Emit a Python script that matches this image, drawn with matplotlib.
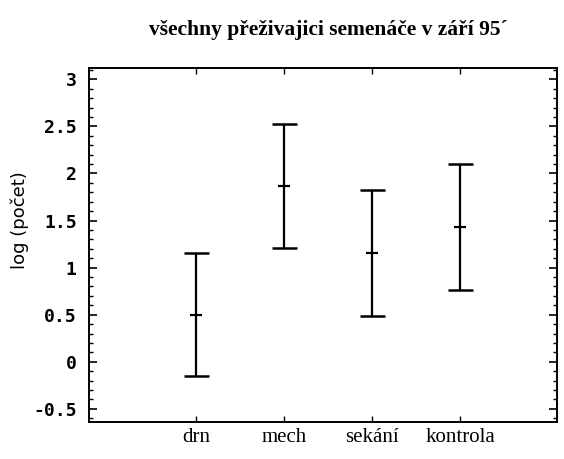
import matplotlib
matplotlib.use("Agg")
import matplotlib.pyplot as plt
from matplotlib.ticker import MultipleLocator, FixedLocator

# treatment groups and log(count) summary
groups = ["drn", "mech", "sekání", "kontrola"]
means = [0.50, 1.87, 1.16, 1.43]
upper = [1.16, 2.53, 1.82, 2.10]
lower = [-0.15, 1.21, 0.49, 0.76]

positions = [1, 2, 3, 4]
ytick_vals = [-0.5, 0, 0.5, 1, 1.5, 2, 2.5, 3]
ytick_text = ["-0.5", "0", "0.5", "1", "1.5", "2", "2.5", "3"]

fig = plt.figure(figsize=(5.64, 4.59), dpi=100)
ax = fig.add_axes([89 / 564, 1 - 422 / 459, (557 - 89) / 564, (422 - 68) / 459])

err_lo = [m - lo for m, lo in zip(means, lower)]
err_hi = [hi - m for m, hi in zip(means, upper)]
ax.errorbar(positions, means, yerr=[err_lo, err_hi], fmt="none",
            ecolor="black", elinewidth=1.6, capsize=9, capthick=1.8)
# short mark at the mean
ax.plot(positions, means, linestyle="none", marker="_", markersize=9,
        markeredgewidth=1.6, color="black")

ax.set_xlim(-0.216, 5.10)
ax.set_ylim(-0.64, 3.12)

ax.yaxis.set_minor_locator(MultipleLocator(0.1))
ax.xaxis.set_major_locator(FixedLocator(positions))
ax.set_xticklabels(groups, fontfamily="Liberation Serif", fontsize=15)
ax.set_yticks(ytick_vals)
ax.set_yticklabels(ytick_text, fontfamily="DejaVu Sans Mono",
                   fontweight="bold", fontsize=13)

ax.tick_params(axis="y", which="major", direction="in", length=6, width=1.2,
               left=True, right=True, pad=9)
ax.tick_params(axis="y", which="minor", direction="in", length=3, width=1.0,
               left=True, right=True)
ax.tick_params(axis="x", which="major", direction="in", length=4, width=1.0,
               top=True, bottom=True, pad=4)

for s in ax.spines.values():
    s.set_linewidth(1.4)

ax.set_ylabel("log (počet)", fontfamily="DejaVu Sans", fontsize=13, va="center")
ax.yaxis.set_label_coords(-0.147, 0.57)
fig.text(328 / 564, 1 - 30 / 459, "všechny přeživajici semenáče v září 95´",
         ha="center", va="center", fontfamily="Liberation Serif",
         fontweight="bold", fontsize=15.5)

fig.savefig("out.png", dpi=100)
